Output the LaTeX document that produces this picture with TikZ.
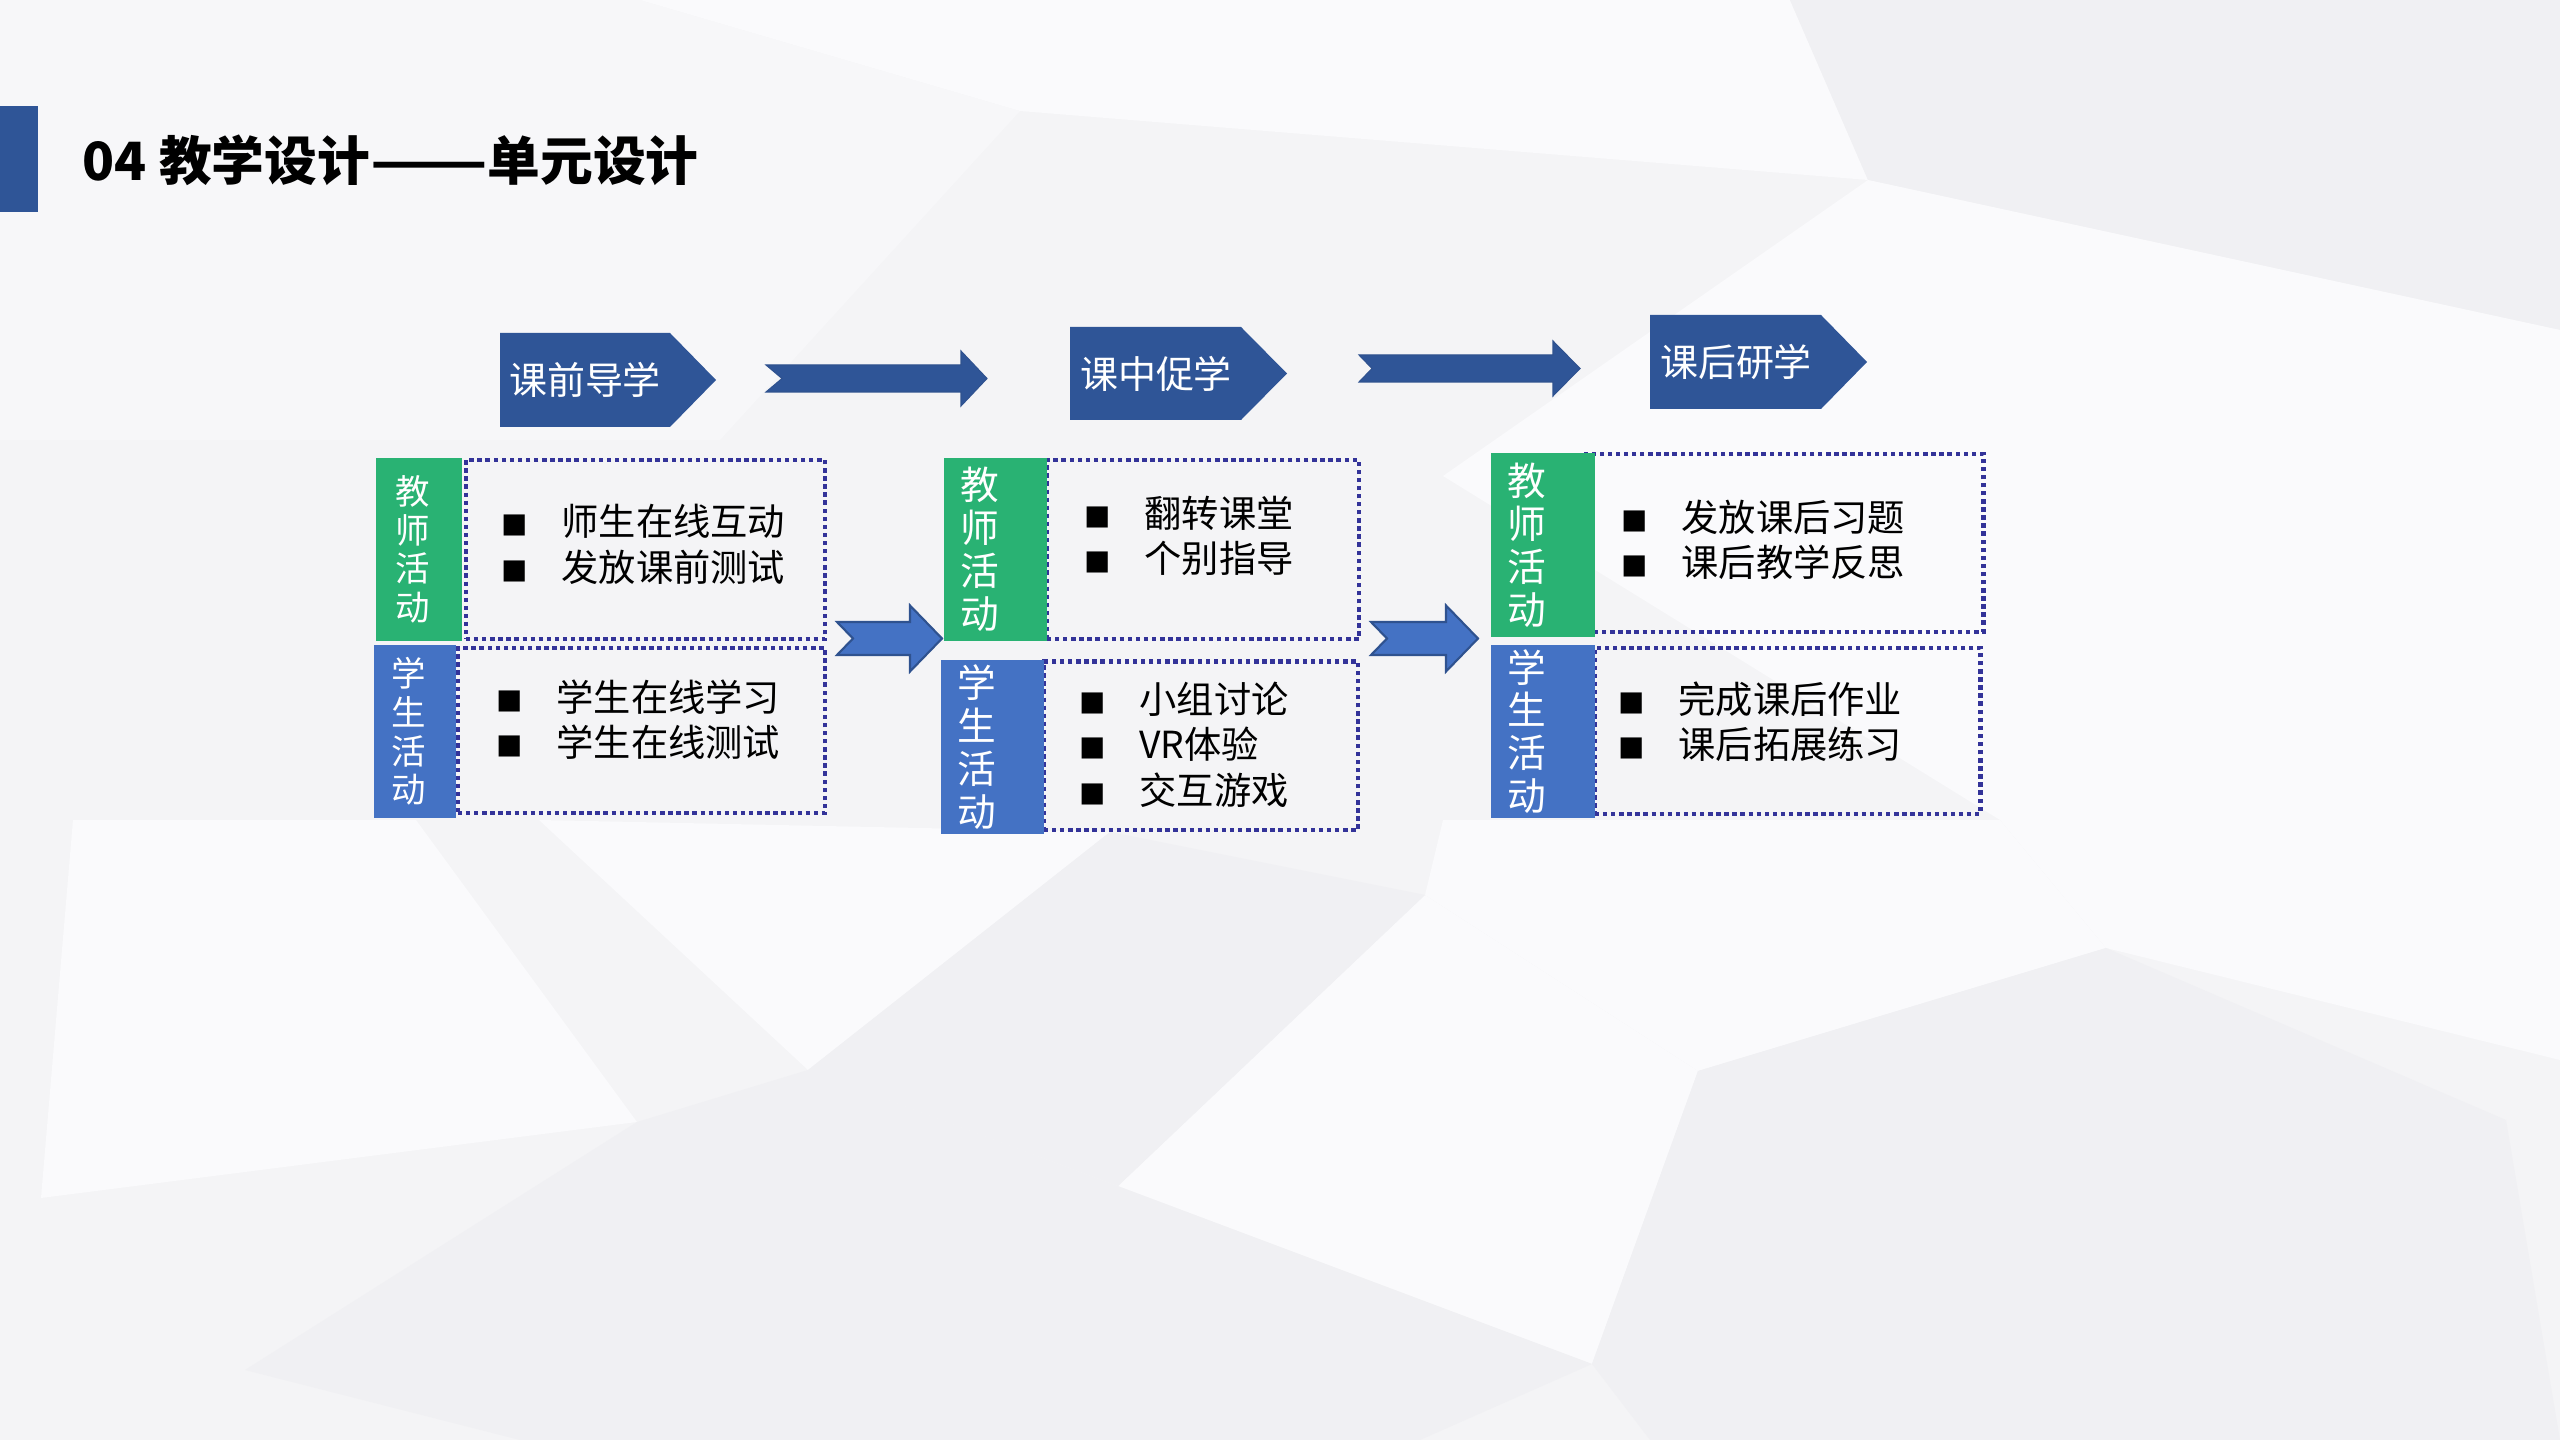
\documentclass[tikz,border=0pt]{standalone}
\usepackage{fontspec}
\setmainfont{Noto Sans CJK SC}
\usetikzlibrary{calc}
\definecolor{pblue}{RGB}{47,85,151}
\definecolor{lblue}{RGB}{68,114,196}
\definecolor{lgreen}{RGB}{41,178,115}
\definecolor{dnavy}{RGB}{51,51,153}
\definecolor{ablue}{RGB}{47,82,143}
\definecolor{bga}{RGB}{244,244,246}
\definecolor{bgb}{RGB}{250,250,252}
\definecolor{bgm}{RGB}{247,247,249}
\definecolor{bgc}{RGB}{240,240,243}
\newcommand\sq{{\fontsize{7.5}{7.5}\selectfont ■}}

\begin{document}
\begin{tikzpicture}[x=.01cm,y=-.01cm,
 pent/.style={fill=pblue},
 ptxt/.style={text=white,inner sep=0,font=\fontsize{10.8}{12}\selectfont},
 dbox/.style={draw=dnavy,line width=1.35pt,dash pattern=on 1.25pt off 1.05pt,inner sep=0},
 lab/.style={text=white,inner sep=0,align=left},
 lab1/.style={lab,text width=.46cm,font=\fontsize{9.8}{11}\selectfont},
 lab2/.style={lab,text width=.7cm,font=\fontsize{11}{12.2}\selectfont},
 lst/.style={inner sep=0,anchor=west,font=\fontsize{10.6}{12.8}\selectfont},
 larr/.style={fill=pblue,draw=ablue,line width=.3pt},
 farr/.style={fill=lblue,draw=ablue,line width=.6pt}]
\useasboundingbox(0,0)rectangle(2560,1440);
\fill[bga](0,0)rectangle(2560,1440);
\fill[bgm](0,0)--(640,0)--(1020,111)--(720,440)--(0,440)--cycle;
\fill[bgb](640,0)--(1790,0)--(1868,180)--(1020,111)--cycle;
\fill[bgc](1790,0)--(2560,0)--(2560,330)--(1868,180)--cycle;
\fill[bgb](1868,180)--(2560,330)--(2560,1060)--(2106,948)--(2000,820)--(1443,476)--cycle;
\fill[bgb](73,820)--(416,820)--(637,1122)--(41,1198)--cycle;
\fill[bgb](539,820)--(1110,832)--(808,1070)--cycle;
\fill[bgb](1118,1186)--(1425,895)--(1698,1071)--(1592,1364)--cycle;
\fill[bgb](1425,895)--(1443,820)--(2000,820)--(2106,948)--(1698,1071)--cycle;
\fill[bgc](1110,832)--(1425,895)--(1118,1186)--(808,1070)--cycle;
\fill[bgc](637,1122)--(808,1070)--(1592,1364)--(1420,1440)--(520,1440)--(245,1370)--cycle;
\fill[bgc](1698,1071)--(2106,948)--(2506,1120)--(2560,1440)--(1650,1440)--(1592,1364)--cycle;
\fill[pblue](0,106)rectangle(37.5,212);
\node[anchor=west,inner sep=0,font=\fontsize{15}{18}\selectfont\bfseries](ttl)at(82,160){04 教学设计\scalebox{1.3}[1]{——}单元设计};
\fill[pent](500,333)--(670,333)--(716,380)--(670,427)--(500,427)--cycle;\node[ptxt](p1)at(585,380){课前导学};
\fill[pent](1070,327)--(1241,327)--(1287,373.5)--(1241,420)--(1070,420)--cycle;\node[ptxt](p2)at(1156,373.5){课中促学};
\fill[pent](1650,315)--(1821,315)--(1867,362)--(1821,409)--(1650,409)--cycle;\node[ptxt](p3)at(1736,362){课后研学};
\coordinate(a1)at(766,378.5);\coordinate(b1)at(987,378.5);\coordinate(a2)at(1359,368.5);\coordinate(b2)at(1580,368.5);
\filldraw[larr](a1)++(0,-13.5)--++(195,0)--++(0,-14)--(b1)--++(-26,27.5)--++(0,-14)--++(-195,0)--++(16,-13.5)--cycle;
\filldraw[larr](a2)++(0,-13.5)--++(194,0)--++(0,-14)--(b2)--++(-27,27.5)--++(0,-14)--++(-194,0)--++(13,-13.5)--cycle;
\node[dbox,minimum width=3.59cm,minimum height=1.79cm](tb1)at(645.5,549.5){};\node[dbox,minimum width=3.67cm,minimum height=1.65cm](sb1)at(641.5,730.5){};
\node[dbox,minimum width=3.12cm,minimum height=1.79cm](tb2)at(1203,549.5){};\node[dbox,minimum width=3.14cm,minimum height=1.685cm](sb2)at(1201,745.75){};
\node[dbox,minimum width=3.97cm,minimum height=1.78cm](tb3)at(1784.5,543){};\node[dbox,minimum width=3.85cm,minimum height=1.66cm](sb3)at(1787.5,731){};
\node[lab1,fill=lgreen,minimum width=.86cm,minimum height=1.83cm](t1)at(419,549.5){教\\师\\活\\动};
\node[lab1,fill=lblue,minimum width=.82cm,minimum height=1.73cm](s1)at(415,731.5){学\\生\\活\\动};
\node[lab2,fill=lgreen,minimum width=1.03cm,minimum height=1.83cm](t2)at(995.5,549.5){教\\师\\活\\动};
\node[lab2,fill=lblue,minimum width=1.03cm,minimum height=1.74cm](s2)at(992.5,747){学\\生\\活\\动};
\node[lab2,fill=lgreen,minimum width=1.04cm,minimum height=1.84cm](t3)at(1543,545){教\\师\\活\\动};
\node[lab2,fill=lblue,minimum width=1.04cm,minimum height=1.73cm](s3)at(1543,731.5){学\\生\\活\\动};
\node[lst](l1)at(501,549.5){\begin{tabular}{@{}l@{\hspace{9.5pt}}l@{}}\sq&师生在线互动\\\sq&发放课前测试\end{tabular}};
\node[lst](l2)at(496,725){\begin{tabular}{@{}l@{\hspace{9.5pt}}l@{}}\sq&学生在线学习\\\sq&学生在线测试\end{tabular}};
\node[lst](l3)at(1084,541){\begin{tabular}{@{}l@{\hspace{9.5pt}}l@{}}\sq&翻转课堂\\\sq&个别指导\end{tabular}};
\node[lst](l4)at(1079,750){\begin{tabular}{@{}l@{\hspace{9.5pt}}l@{}}\sq&小组讨论\\\sq&VR体验\\\sq&交互游戏\end{tabular}};
\node[lst](l5)at(1621,545){\begin{tabular}{@{}l@{\hspace{9.5pt}}l@{}}\sq&发放课后习题\\\sq&课后教学反思\end{tabular}};
\node[lst](l6)at(1618,727){\begin{tabular}{@{}l@{\hspace{9.5pt}}l@{}}\sq&完成课后作业\\\sq&课后拓展练习\end{tabular}};
\coordinate(a3)at(837,638.5);\coordinate(b3)at(942,638.5);\coordinate(a4)at(1371,638.5);\coordinate(b4)at(1478,638.5);
\filldraw[farr](a3)++(0,-16.5)--++(73,0)--++(0,-16.5)--(b3)--++(-32,33)--++(0,-16.5)--++(-73,0)--++(16,-16.5)--cycle;
\filldraw[farr](a4)++(0,-16.5)--++(75,0)--++(0,-16.5)--(b4)--++(-32,33)--++(0,-16.5)--++(-75,0)--++(16,-16.5)--cycle;
\end{tikzpicture}
\end{document}
